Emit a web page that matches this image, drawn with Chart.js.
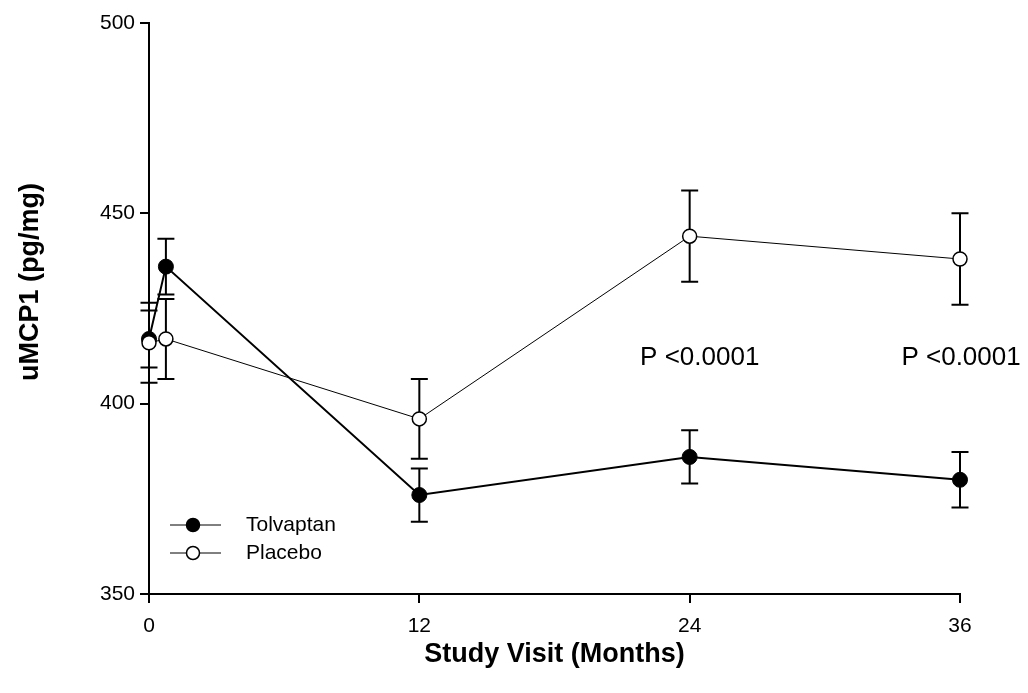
<!DOCTYPE html>
<html>
<head>
<meta charset="utf-8">
<script src="https://cdn.jsdelivr.net/npm/chart.js@4"></script>
<style>
  html, body { margin: 0; padding: 0; background: #fff; }
  #wrap { width: 1028px; height: 693px; }
</style>
</head>
<body>
<div id="wrap"><canvas id="chart" width="1028" height="693"></canvas></div>
<script>
// study visits (months)
const visits = [0, 0.75, 12, 24, 36];
const tolvaptanMean = [417, 436, 376, 386, 380];
const tolvaptanErr = [7.5, 7.3, 7, 7, 7.3];
const placeboMean = [416, 417, 396, 444, 438];
const placeboErr = [10.5, 10.5, 10.5, 12, 12];
const xTicks = [0, 12, 24, 36];
const yTicks = [350, 400, 450, 500];
const pLabels = [
    { x: 21.8, y: 412, text: 'P <0.0001' },
    { x: 33.4, y: 412, text: 'P <0.0001' }
];

const FONT = 'Arial, "Liberation Sans", sans-serif';

function toPoints(xs, ys) {
    return xs.map((x, i) => ({ x: x, y: ys[i] }));
}

// error bars, drawn under the markers
const errorBars = {
    id: 'errorBars',
    beforeDatasetsDraw(chart) {
        const ctx = chart.ctx;
        const xs = chart.scales.x, ys = chart.scales.y;
        ctx.save();
        ctx.strokeStyle = '#000';
        ctx.lineWidth = 2;
        chart.data.datasets.forEach(ds => {
            ds.data.forEach((p, i) => {
                const e = ds.errors[i];
                const px = xs.getPixelForValue(p.x);
                const top = ys.getPixelForValue(p.y + e);
                const bot = ys.getPixelForValue(p.y - e);
                ctx.beginPath();
                ctx.moveTo(px, top); ctx.lineTo(px, bot);
                ctx.moveTo(px - 8.5, top); ctx.lineTo(px + 8.5, top);
                ctx.moveTo(px - 8.5, bot); ctx.lineTo(px + 8.5, bot);
                ctx.stroke();
            });
        });
        ctx.restore();
    }
};

// titles, p-value labels and the legend
const extras = {
    id: 'extras',
    afterDraw(chart) {
        const ctx = chart.ctx;
        const a = chart.chartArea;
        const xs = chart.scales.x, ys = chart.scales.y;
        ctx.save();
        ctx.fillStyle = '#000';

        ctx.font = '26px ' + FONT;
        ctx.textAlign = 'left';
        ctx.textBaseline = 'middle';
        pLabels.forEach(l => {
            ctx.fillText(l.text, xs.getPixelForValue(l.x), ys.getPixelForValue(l.y));
        });

        ctx.font = 'bold 27px ' + FONT;
        ctx.textAlign = 'center';
        ctx.fillText('Study Visit (Months)', (a.left + a.right) / 2, 655);

        ctx.save();
        ctx.translate(31, 282);
        ctx.rotate(-Math.PI / 2);
        ctx.fillText('uMCP1 (pg/mg)', 0, 0);
        ctx.restore();

        // legend
        const items = [
            { label: 'Tolvaptan', fill: '#000', y: 525 },
            { label: 'Placebo', fill: '#fff', y: 553 }
        ];
        ctx.font = '21px ' + FONT;
        ctx.textAlign = 'left';
        items.forEach(it => {
            ctx.strokeStyle = '#000';
            ctx.lineWidth = 1;
            ctx.beginPath();
            ctx.moveTo(a.left + 21, it.y);
            ctx.lineTo(a.left + 72, it.y);
            ctx.stroke();
            ctx.beginPath();
            ctx.arc(a.left + 44, it.y, 6.5, 0, Math.PI * 2);
            ctx.fillStyle = it.fill;
            ctx.fill();
            ctx.lineWidth = 1.5;
            ctx.stroke();
            ctx.fillStyle = '#000';
            ctx.fillText(it.label, a.left + 97, it.y);
        });
        ctx.restore();
    }
};

const ctx = document.getElementById('chart').getContext('2d');
new Chart(ctx, {
    type: 'line',
    data: {
        datasets: [
            {
                label: 'Placebo',
                data: toPoints(visits, placeboMean),
                errors: placeboErr,
                borderColor: '#000',
                borderWidth: 1,
                pointRadius: 7,
                pointBackgroundColor: '#fff',
                pointBorderColor: '#000',
                pointBorderWidth: 1.5,
                tension: 0
            },
            {
                label: 'Tolvaptan',
                data: toPoints(visits, tolvaptanMean),
                errors: tolvaptanErr,
                borderColor: '#000',
                borderWidth: 2,
                pointRadius: 7.5,
                pointBackgroundColor: '#000',
                pointBorderColor: '#000',
                pointBorderWidth: 1,
                tension: 0
            }
        ]
    },
    options: {
        responsive: false,
        animation: false,
        clip: false,
        layout: { padding: { left: 0, right: 68, top: 23, bottom: 0 } },
        plugins: {
            legend: { display: false },
            tooltip: { enabled: false }
        },
        scales: {
            x: {
                type: 'linear',
                min: 0,
                max: 36,
                afterBuildTicks: scale => { scale.ticks = xTicks.map(v => ({ value: v })); },
                afterFit: scale => { scale.height = 99; },
                grid: { drawOnChartArea: false, drawTicks: true, tickLength: 9, color: '#000', lineWidth: 2 },
                border: { color: '#000', width: 2 },
                ticks: { color: '#000', font: { family: FONT, size: 21 }, padding: 11, maxRotation: 0 }
            },
            y: {
                min: 350,
                max: 500,
                afterBuildTicks: scale => { scale.ticks = yTicks.map(v => ({ value: v })); },
                afterFit: scale => { scale.width = 149; },
                grid: { drawOnChartArea: false, drawTicks: true, tickLength: 9, color: '#000', lineWidth: 2 },
                border: { color: '#000', width: 2 },
                ticks: { color: '#000', font: { family: FONT, size: 21 }, padding: 5 }
            }
        }
    },
    plugins: [errorBars, extras]
});
</script>
</body>
</html>
